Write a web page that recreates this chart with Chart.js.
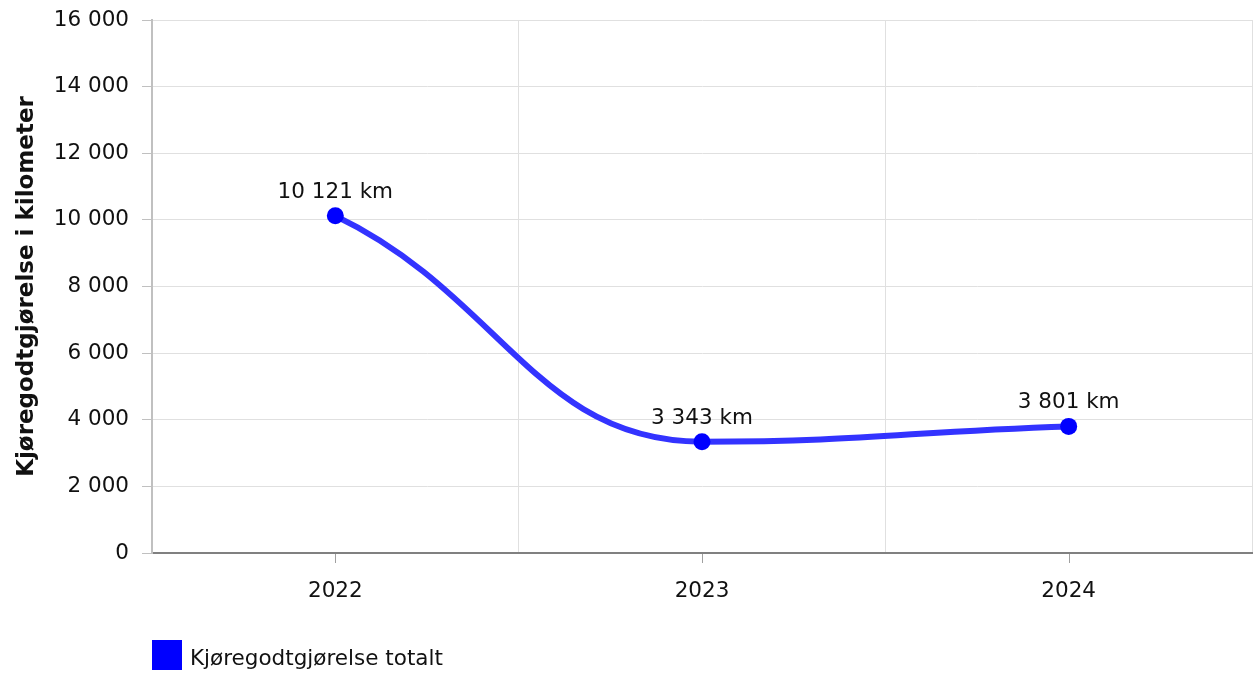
<!DOCTYPE html>
<html>
<head>
<meta charset="utf-8">
<script src="https://cdn.jsdelivr.net/npm/chart.js@4/dist/chart.umd.min.js"></script>
<style>
  html, body { margin: 0; padding: 0; background: #fff; }
  #chart { display: block; }
</style>
</head>
<body>
<canvas id="chart" width="1253" height="673"></canvas>
<script>
// --- data ---
const years = ['2022', '2023', '2024'];
const kmTotal = [10121, 3343, 3801];
const seriesName = 'Kjøregodtgjørelse totalt';
const yTitle = 'Kjøregodtgjørelse i kilometer';
const yMin = 0;
const yMax = 16000;
const yStep = 2000;

const FONT = "'DejaVu Sans', Verdana, sans-serif";
const FONT_SIZE = 21.5;
const LINE_COLOR = '#3333ff';
const POINT_COLOR = '#0000ff';
const AXIS_GREY = '#a0a0a0';
const GRID_GREY = '#e0e0e0';

// 10121 -> "10 121"
function fmt(v) {
  return String(Math.round(v)).replace(/\B(?=(\d{3})+(?!\d))/g, ' ');
}

// smooth curve: flat at local turns, softened start/end
const splinePlugin = {
  id: 'spline',
  beforeDatasetDraw(chart, args) {
    const meta = args.meta;
    const line = meta.dataset;
    if (!line) return;
    if (line.updateControlPoints) line.updateControlPoints(chart.chartArea, 'x');
    const pts = meta.data;
    const kx = 0.45, kyEnd = 0.35;
    pts.forEach((p, i) => {
      const prev = pts[i - 1], next = pts[i + 1];
      p.cp1x = p.x; p.cp1y = p.y; p.cp2x = p.x; p.cp2y = p.y;
      if (!prev && next) {
        p.cp2x = p.x + kx * (next.x - p.x);
        p.cp2y = p.y + kyEnd * (next.y - p.y);
        return;
      }
      if (prev && !next) {
        p.cp1x = p.x - kx * (p.x - prev.x);
        p.cp1y = p.y - kyEnd * (p.y - prev.y);
        return;
      }
      if (!prev || !next) return;
      let lx = p.x - kx * (p.x - prev.x), ly = p.y - kx * (p.y - prev.y);
      let rx = p.x + kx * (next.x - p.x), ry = p.y + kx * (next.y - p.y);
      if (rx !== lx) {
        const corr = ((ry - ly) * (rx - p.x)) / (rx - lx) + p.y - ry;
        ly += corr; ry += corr;
      }
      if (ly > prev.y && ly > p.y) { ly = Math.max(prev.y, p.y); ry = 2 * p.y - ly; }
      else if (ly < prev.y && ly < p.y) { ly = Math.min(prev.y, p.y); ry = 2 * p.y - ly; }
      if (ry > next.y && ry > p.y) { ry = Math.max(next.y, p.y); ly = 2 * p.y - ry; }
      else if (ry < next.y && ry < p.y) { ry = Math.min(next.y, p.y); ly = 2 * p.y - ry; }
      p.cp1x = lx; p.cp1y = ly; p.cp2x = rx; p.cp2y = ry;
    });
    line._path = undefined;
  }
};

// small tick marks under each category
const categoryTicks = {
  id: 'categoryTicks',
  afterDraw(chart) {
    const xs = chart.scales.x;
    const ctx = chart.ctx;
    ctx.save();
    ctx.strokeStyle = AXIS_GREY;
    ctx.lineWidth = 1;
    years.forEach((y, i) => {
      const px = Math.round(xs.getPixelForValue(i)) + 0.5;
      ctx.beginPath();
      ctx.moveTo(px, xs.top + 1);
      ctx.lineTo(px, xs.top + 10);
      ctx.stroke();
    });
    ctx.restore();
  }
};

// value labels above each point
const valueLabels = {
  id: 'valueLabels',
  afterDatasetsDraw(chart) {
    const ctx = chart.ctx;
    const meta = chart.getDatasetMeta(0);
    ctx.save();
    ctx.font = FONT_SIZE + 'px ' + FONT;
    ctx.fillStyle = '#111';
    ctx.textAlign = 'center';
    ctx.textBaseline = 'alphabetic';
    meta.data.forEach((pt, i) => {
      ctx.fillText(fmt(kmTotal[i]) + ' km', pt.x, pt.y - 18);
    });
    ctx.restore();
  }
};

// legend in the bottom left, lined up with the plot
const bottomLegend = {
  id: 'bottomLegend',
  afterDraw(chart) {
    const ctx = chart.ctx;
    const x = chart.chartArea.left;
    const y = chart.height - 33;
    ctx.save();
    ctx.fillStyle = POINT_COLOR;
    ctx.fillRect(x, y, 30, 30);
    ctx.font = FONT_SIZE + 'px ' + FONT;
    ctx.fillStyle = '#111';
    ctx.textAlign = 'left';
    ctx.textBaseline = 'alphabetic';
    ctx.fillText(seriesName, x + 38, y + 25);
    ctx.restore();
  }
};

new Chart(document.getElementById('chart'), {
  type: 'line',
  data: {
    labels: years,
    datasets: [{
      label: seriesName,
      data: kmTotal,
      borderColor: LINE_COLOR,
      borderWidth: 6,
      tension: 0.4,
      fill: false,
      clip: false,
      pointRadius: 8.5,
      pointHoverRadius: 8.5,
      pointBackgroundColor: POINT_COLOR,
      pointBorderWidth: 0
    }]
  },
  options: {
    responsive: false,
    animation: false,
    devicePixelRatio: 1,
    layout: { autoPadding: false, padding: { top: 20, right: 1, left: 0, bottom: 0 } },
    plugins: {
      legend: { display: false },
      tooltip: { enabled: false }
    },
    scales: {
      x: {
        offset: true,
        grid: { offset: true, color: GRID_GREY, drawTicks: false },
        border: { color: '#808080', width: 2 },
        ticks: { color: '#111', font: { family: FONT, size: FONT_SIZE }, padding: 26, maxRotation: 0 },
        afterFit(scale) {
          scale.height = 120;
          scale.paddingLeft = 0;
          scale.paddingRight = 0;
        }
      },
      y: {
        min: yMin,
        max: yMax,
        grid: { color: GRID_GREY, tickColor: '#c0c0c0', tickLength: 10 },
        border: { color: '#c0c0c0', width: 2 },
        ticks: {
          stepSize: yStep,
          color: '#111',
          font: { family: FONT, size: FONT_SIZE },
          padding: 13,
          callback: (v) => fmt(v)
        },
        title: {
          display: true,
          text: yTitle,
          color: '#111',
          font: { family: FONT, size: 23, weight: 'bold' },
          padding: { top: 13, bottom: 0 }
        },
        afterFit(scale) {
          scale.width = 152;
          scale.paddingTop = 0;
          scale.paddingBottom = 0;
        }
      }
    }
  },
  plugins: [splinePlugin, categoryTicks, valueLabels, bottomLegend]
});
</script>
</body>
</html>
